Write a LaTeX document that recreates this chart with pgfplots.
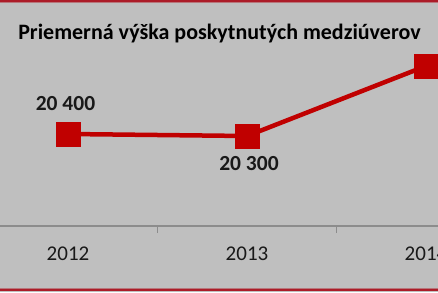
\documentclass[border=0pt]{standalone}
\usepackage{pgfplots}
\pgfplotsset{compat=1.18}
\usepackage{fontspec}
\setmainfont{Carlito}
\definecolor{chartred}{RGB}{192,0,0}
\definecolor{panel}{RGB}{191,191,191}
\definecolor{axisgray}{RGB}{140,140,140}
\definecolor{rulered}{RGB}{172,28,40}
\begin{document}
\begin{tikzpicture}[x=1pt,y=1pt]
\path[use as bounding box] (0,0) rectangle (438,292);
\clip (0,0) rectangle (438,292);
% panel and red frame rules
\fill[panel] (0,0) rectangle (438,292);
\fill[rulered!45!panel] (0,288.5) rectangle (438,289.5);
\fill[rulered] (0,289.5) rectangle (438,292);
\fill[rulered!45!panel] (0,3.5) rectangle (438,4.5);
\fill[rulered] (0,1) rectangle (438,3.5);
% title
\node[anchor=base, font=\bfseries\fontsize{22}{26}\selectfont, inner sep=0pt]
  at (219.5,252.5) {Priemerná výška poskytnutých medziúverov};
\begin{axis}[
  at={(-21.5pt,66pt)}, anchor=south west,
  scale only axis, width=537pt, height=176pt,
  xmin=-0.5, xmax=2.5, ymin=15800, ymax=24600,
  axis x line*=bottom, hide y axis,
  x axis line style={-, draw=axisgray, line width=1.5pt},
  xtick={0,1,2}, xticklabels={2012,2013,2014},
  xtick style={draw=none},
  major tick length=0pt,
  extra x ticks={0.5,1.5}, extra x tick labels={},
  extra x tick style={major tick length=7pt, tick align=outside,
    xtick style={draw=axisgray, line width=1.5pt}},
  xticklabel style={font=\fontsize{21}{25}\selectfont, text=black!90,
    anchor=center, yshift=-28pt},
  /pgf/number format/.cd, fixed, precision=0, 1000 sep={\ }, assume math mode=true,
]
\addplot[chartred, line width=4.5pt, mark=square*, mark size=11.75pt,
  mark options={solid, line width=0.5pt}]
  coordinates {(0,20400) (1,20300) (2,23800)};
% value labels
\addplot[draw=none, mark=none, point meta=y, nodes near coords,
  every node near coord/.append style={anchor=center, yshift=30pt, xshift=-2.5pt,
    font=\bfseries\fontsize{21.5}{25}\selectfont, text=black!90}]
  coordinates {(0,20400)};
\addplot[draw=none, mark=none, point meta=y, nodes near coords,
  every node near coord/.append style={anchor=center, yshift=-27.5pt, xshift=2pt,
    font=\bfseries\fontsize{21.5}{25}\selectfont, text=black!90}]
  coordinates {(1,20300)};
\end{axis}
\end{tikzpicture}
\end{document}
